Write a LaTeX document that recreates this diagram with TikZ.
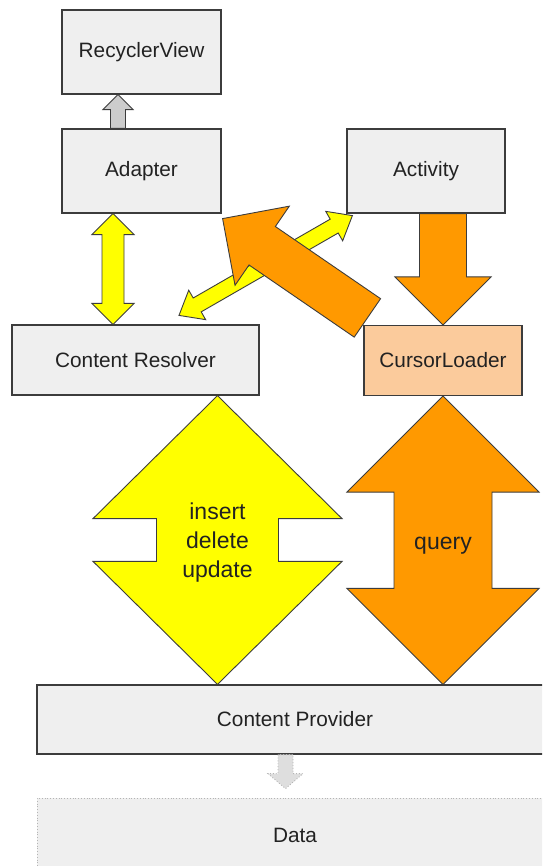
\documentclass[tikz,border=0pt]{standalone}
\usepackage{fontspec}
\setmainfont{Liberation Sans}
\usepackage{tikz}
\usetikzlibrary{calc}
\definecolor{boxc}{HTML}{EFEFEF}
\definecolor{edgec}{HTML}{3C3C3C}
\definecolor{txtc}{HTML}{222222}
\definecolor{yelc}{HTML}{FFFF00}
\definecolor{orgc}{HTML}{FF9900}
\definecolor{peachc}{HTML}{FBCB9C}
\definecolor{greyc}{HTML}{CCCCCC}
\definecolor{dotc}{HTML}{B4B4B4}
\tikzset{
  box/.style={draw=edgec,line width=1.2pt,fill=boxc,text=txtc,font=\fontsize{20.8}{25}\selectfont,inner sep=0pt},
  blk/.style={draw=edgec,line width=0.9pt,line join=miter},
  ylw/.style={blk,fill=yelc},
  org/.style={blk,fill=orgc},
  gry/.style={blk,fill=greyc},
  dgry/.style={draw=dotc,line width=0.9pt,dotted,fill=boxc!85!gray},
  lbl/.style={text=txtc,font=\fontsize{23}{29}\selectfont,align=center}
}
\newcommand\blkarrow[6]{%
  \draw[#1] let \p1=(#2), \p2=(#3), \n1={veclen(\x2-\x1,\y2-\y1)}, \n2={atan2(\y2-\y1,\x2-\x1)} in
    [shift={(\p1)},rotate=\n2] (0,-#4) -- (\n1-#6,-#4) -- (\n1-#6,-#5) -- (\n1,0)
    -- (\n1-#6,#5) -- (\n1-#6,#4) -- (0,#4) -- cycle;}
\newcommand\dblarrow[6]{%
  \draw[#1] let \p1=(#2), \p2=(#3), \n1={veclen(\x2-\x1,\y2-\y1)}, \n2={atan2(\y2-\y1,\x2-\x1)} in
    [shift={(\p1)},rotate=\n2] (0,0) -- (#6,#5) -- (#6,#4) -- (\n1-#6,#4) -- (\n1-#6,#5) -- (\n1,0)
    -- (\n1-#6,-#5) -- (\n1-#6,-#4) -- (#6,-#4) -- (#6,-#5) -- cycle;}

\begin{document}
\begin{tikzpicture}[x=1pt,y=1pt]
\clip (0,0) rectangle (542,-866);
\fill[white] (0,0) rectangle (542,-866);
\node[box,minimum width=159pt,minimum height=84pt] (recycler) at (141.5,-52) {RecyclerView};
\node[box,minimum width=159pt,minimum height=84pt] (adapter) at (141.5,-171) {Adapter};
\node[box,minimum width=158pt,minimum height=84pt] (activity) at (426,-171) {Activity};
\node[box,minimum width=247pt,minimum height=70pt] (resolver) at (135.5,-360) {Content Resolver};
\node[box,fill=peachc,minimum width=158pt,minimum height=70pt] (loader) at (443,-360.5) {CursorLoader};
\node[box,minimum width=516pt,minimum height=69pt] (provider) at (295,-719.5) {Content Provider};
\node[box,draw=dotc,line width=0.8pt,dotted,minimum width=516pt,minimum height=74pt] (data) at (295,-835) {Data};
\coordinate (g1) at ([xshift=-23.5pt]adapter.north);
\coordinate (g2) at ([xshift=-23.5pt]recycler.south);
\coordinate (y1) at ([xshift=-28.5pt]adapter.south);
\coordinate (y2) at (y1 |- resolver.north);
\coordinate (o1) at (loader.center |- activity.south);
\coordinate (d1) at ($(loader.north west)+(4,7)$);
\coordinate (d2) at ($(adapter.south east)+(1,-5)$);
\coordinate (e1) at ($(resolver.north)+(43.5,9)$);
\coordinate (e2) at ($(activity.south west)+(6,-2)$);
\coordinate (b1) at ([xshift=82pt]resolver.south);
\coordinate (b2) at (b1 |- provider.north);
\coordinate (q2) at (loader.south |- provider.north);
\coordinate (p1) at ([xshift=-9.5pt]provider.south);
\coordinate (p2) at ([yshift=-34pt]p1);
\blkarrow{gry}{g1}{g2}{7.5}{15}{15}
\dblarrow{ylw}{y1}{y2}{11}{21}{21}
\blkarrow{org}{o1}{loader.north}{23.5}{48}{48}
\dblarrow{ylw}{e1}{e2}{8}{17}{21}
\blkarrow{org}{d1}{d2}{23.3}{48}{48}
\dblarrow{ylw}{b1}{b2}{61}{124.5}{123}
\dblarrow{org}{loader.south}{q2}{49}{96}{96}
\blkarrow{dgry}{p1}{p2}{7.5}{17.5}{15}
\node[lbl] (crud) at ([yshift=-3pt]$(b1)!0.5!(b2)$) {insert\\delete\\update};
\node[lbl] (query) at ([yshift=-5pt]$(loader.south)!0.5!(q2)$) {query};
\end{tikzpicture}
\end{document}
